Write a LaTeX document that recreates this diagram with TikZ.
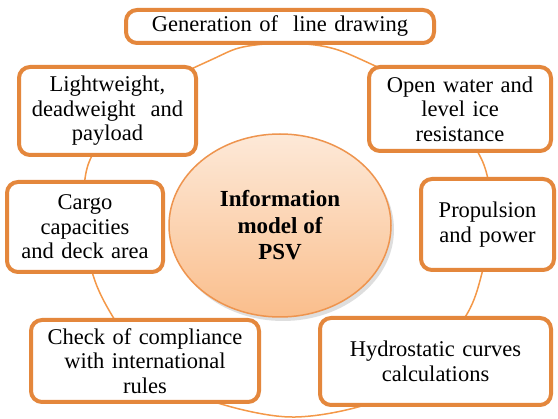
\documentclass[tikz,border=0pt]{standalone}
\usepackage{fontspec}
\setmainfont{Liberation Serif}
\usetikzlibrary{shapes.geometric,shadows}
\definecolor{boxorange}{RGB}{228,135,60}
\definecolor{ringorange}{RGB}{244,152,72}
\definecolor{ellborder}{RGB}{238,148,78}
\definecolor{elltop}{RGB}{253,233,216}
\definecolor{ellbot}{RGB}{250,190,140}
\begin{document}
\begin{tikzpicture}[x=1pt,y=-1pt,
  infobox/.style={draw=boxorange,line width=4pt,rounded corners=11pt,fill=white,
    align=center,inner sep=0pt,font=\fontsize{22.5}{24.5}\selectfont},
  ring/.style={draw=ringorange,line width=1.5pt},
  hub/.style={ellipse,draw=ellborder,line width=1.5pt,top color=elltop,bottom color=ellbot,
    align=center,inner sep=0pt,font=\fontsize{23}{26.5}\selectfont\bfseries,
    drop shadow={shadow xshift=3pt,shadow yshift=-4pt,fill=black!25,opacity=0.5}}]
\useasboundingbox (0,0) rectangle (558,419);
\fill[white] (0,0) rectangle (558,419);
% ring
\draw[ring] plot[smooth cycle,tension=0.55] coordinates {
 (286,43) (327,47) (360,59) (422,90) (455,120) (484,165) (492,220) (482,273)
 (467,314) (428,365) (377,401) (290,417) (200,397) (146,362) (113,317) (93,275)
 (84,220) (88,165) (117,120) (150,90) (213,59) (243,47)};
% hub
\node[hub,minimum width=222pt,minimum height=183pt] (hub) at (280,225.5) {Information\\model of\\PSV};
% boxes
\node[infobox,minimum width=308pt,minimum height=33pt,text width=300pt] (gen) at (280,26.5) {Generation of~ line drawing};
\node[infobox,minimum width=177pt,minimum height=88pt,text width=170pt] (light) at (107.5,111) {Lightweight,\\deadweight~ and\\payload};
\node[infobox,minimum width=182pt,minimum height=84pt,text width=175pt] (open) at (460,109) {Open water and\\level ice\\resistance};
\node[infobox,minimum width=133pt,minimum height=91pt,text width=128pt] (prop) at (487.5,224.5) {Propulsion\\and power};
\node[infobox,minimum width=156pt,minimum height=90pt,text width=150pt] (cargo) at (85,227) {Cargo\\capacities\\and deck area};
\node[infobox,minimum width=228pt,minimum height=82pt,text width=222pt] (check) at (145,361) {Check of compliance\\with international\\rules};
\node[infobox,minimum width=231pt,minimum height=87pt,text width=225pt] (hydro) at (435.5,361.5) {Hydrostatic curves\\calculations};
\end{tikzpicture}
\end{document}
